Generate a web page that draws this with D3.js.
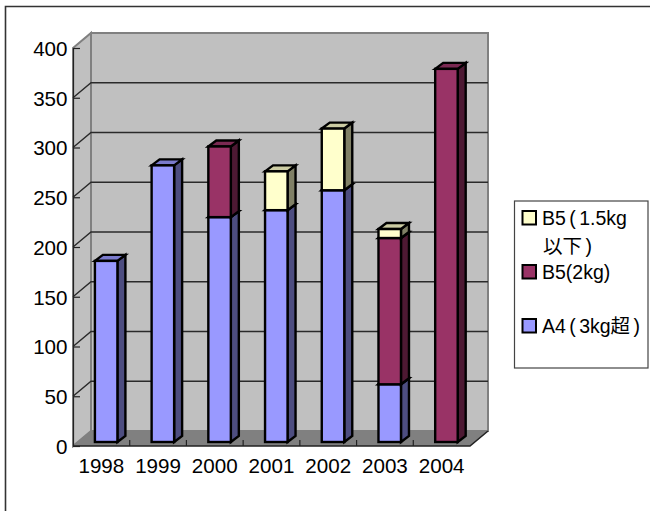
<!DOCTYPE html>
<html>
<head>
<meta charset="utf-8">
<script src="https://cdn.jsdelivr.net/npm/d3@7/dist/d3.min.js"></script>
<style>
html,body{margin:0;padding:0;background:#fff}
svg{display:block}
text{font-family:"Liberation Sans","Noto Sans CJK JP",sans-serif;fill:#000}
</style>
</head>
<body>
<svg id="chart" width="650" height="511"></svg>
<script>
const years = ["1998","1999","2000","2001","2002","2003","2004"];
const a4 = [182, 278, 226, 233, 253, 58, 0];
const b5Two = [0, 0, 71, 0, 0, 147, 375];
const b5Light = [0, 0, 0, 39, 62, 9, 0];
const yTicks = [0, 50, 100, 150, 200, 250, 300, 350, 400];

const seriesKeys = ["a4", "b5Two", "b5Light"];
const seriesValues = {a4, b5Two, b5Light};
const faces = {
  a4: {front: "#9999ff", side: "#4d4d80", top: "#7a7acc"},
  b5Two: {front: "#993366", side: "#4d1933", top: "#7a2952"},
  b5Light: {front: "#ffffcc", side: "#808066", top: "#cccca3"}
};
const legendRows = [
  {key: "b5Light", lines: ["B5 ( 1.5kg", "以下 )"], swatchY: 211, baselines: [225, 253]},
  {key: "b5Two", lines: ["B5(2kg)"], swatchY: 265, baselines: [279]},
  {key: "a4", lines: ["A4 ( 3kg超 )"], swatchY: 319, baselines: [333]}
];

const svg = d3.select("#chart");

// Oblique projection: the back wall sits up and to the right of the front plane.
const depth = {x: 18, y: -15};
const x = d3.scaleBand().domain(years).range([73, 470]);
const y = d3.scaleLinear().domain([0, 400]).range([446, 48]);
const x0 = x.range()[0], x1 = x.range()[1];
const poly = pts => pts.map(p => p.join(",")).join(" ");

// Outer frame: only the top and left edges fall inside the page.
svg.append("path").attr("d", "M5.5,511V6.5H650")
  .attr("fill", "none").attr("stroke", "#333").attr("stroke-width", 1.6);

// Walls and floor.
const plot = svg.append("g");
plot.append("polygon")
  .attr("points", poly([[x0 + depth.x, y(400) + depth.y], [x1 + depth.x, y(400) + depth.y], [x1 + depth.x, y(0) + depth.y], [x0 + depth.x, y(0) + depth.y]]))
  .attr("fill", "#c0c0c0").attr("stroke", "#808080").attr("stroke-width", 2);
plot.append("polygon")
  .attr("points", poly([[x0, y(400)], [x0 + depth.x, y(400) + depth.y], [x0 + depth.x, y(0) + depth.y], [x0, y(0)]]))
  .attr("fill", "#c0c0c0").attr("stroke", "#808080").attr("stroke-width", 2);
plot.append("polygon")
  .attr("points", poly([[x0, y(0)], [x0 + depth.x, y(0) + depth.y], [x1 + depth.x, y(0) + depth.y], [x1, y(0)]]))
  .attr("fill", "#808080");

// Gridlines run across the back wall and fold down the left wall.
plot.selectAll("path.grid").data(yTicks.filter(d => d > 0 && d < 400)).join("path")
  .attr("class", "grid")
  .attr("d", d => `M${x0},${y(d)}L${x0 + depth.x},${y(d) + depth.y}H${x1 + depth.x}`)
  .attr("fill", "none").attr("stroke", "#2a2a2a").attr("stroke-width", 1.4);

// Axes with their ticks pointing into the plot.
const yAxis = d3.axisLeft(y).tickValues(yTicks).tickSize(-7).tickPadding(5.5).tickSizeOuter(0);
const yG = svg.append("g").attr("transform", `translate(${x0},0)`).call(yAxis);
yG.select(".domain").attr("stroke", "#222").attr("stroke-width", 1.2);
yG.selectAll(".tick line").attr("stroke", "#222").attr("stroke-width", 1.2);
yG.selectAll("text").attr("font-size", 20.6).attr("dy", "0.36em").attr("fill", "#000")
  .style("font-family", '"Liberation Sans"');

const xEdges = years.map((d, i) => i);
svg.append("path").attr("d", `M${x0},${y(0)}H${x1}L${x1 + depth.x},${y(0) + depth.y}`)
  .attr("fill", "none").attr("stroke", "#222").attr("stroke-width", 1.6);
svg.selectAll("line.xtick").data(xEdges.slice(1)).join("line")
  .attr("class", "xtick")
  .attr("x1", i => x(years[i])).attr("x2", i => x(years[i]))
  .attr("y1", y(0)).attr("y2", y(0) - 6)
  .attr("stroke", "#222").attr("stroke-width", 1.2);
svg.selectAll("text.year").data(years).join("text")
  .attr("class", "year")
  .attr("x", d => x(d) + x.bandwidth() / 2)
  .attr("y", 473)
  .attr("text-anchor", "middle")
  .attr("font-size", 20.6)
  .text(d => d);

// Stacked bars: each segment is a front face, a side face and a cap.
const stacked = d3.stack().keys(seriesKeys)(years.map((yr, i) => ({
  year: yr, a4: a4[i], b5Two: b5Two[i], b5Light: b5Light[i]
})));
const barWidth = 22.5;
const barShift = {x: 4.8, y: -4};
const cap = {x: 8, y: -6};
const barLeft = yr => x(yr) + x.bandwidth() / 2 - barWidth / 2 + barShift.x;
const barsLayer = svg.append("g").attr("stroke", "#000").attr("stroke-width", 2.4).attr("stroke-linejoin", "miter");

stacked.forEach(layer => {
  const col = faces[layer.key];
  layer.forEach(seg => {
    const top = seg[1], base = seg[0];
    if (top - base <= 0) return;
    const l = barLeft(seg.data.year), r = l + barWidth;
    const yt = y(top) + barShift.y, yb = y(base) + barShift.y;
    barsLayer.append("polygon")
      .attr("points", poly([[r, yt], [r + cap.x, yt + cap.y], [r + cap.x, yb + cap.y], [r, yb]]))
      .attr("fill", col.side);
    barsLayer.append("polygon")
      .attr("points", poly([[l, yt], [l + cap.x, yt + cap.y], [r + cap.x, yt + cap.y], [r, yt]]))
      .attr("fill", col.top);
    barsLayer.append("rect")
      .attr("x", l).attr("y", yt).attr("width", barWidth).attr("height", yb - yt)
      .attr("fill", col.front);
  });
});

// Legend box.
const legend = svg.append("g");
legend.append("rect").attr("x", 514.5).attr("y", 201).attr("width", 133.5).attr("height", 167)
  .attr("fill", "#fff").attr("stroke", "#444").attr("stroke-width", 1.2);
legendRows.forEach(row => {
  legend.append("rect")
    .attr("x", 522.5).attr("y", row.swatchY).attr("width", 13.5).attr("height", 13.5)
    .attr("fill", faces[row.key].front).attr("stroke", "#000").attr("stroke-width", 2);
  row.lines.forEach((line, i) => {
    legend.append("text").attr("x", i === 0 ? 542 : 543).attr("y", row.baselines[i])
      .attr("font-size", 19.5).attr("word-spacing", -2).text(line);
  });
});
</script>
</body>
</html>
